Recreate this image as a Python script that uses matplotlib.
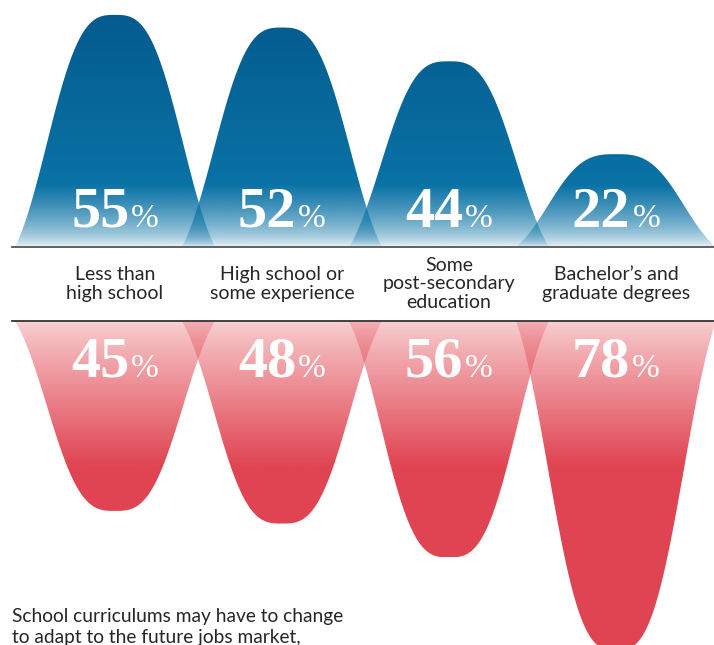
import numpy as np
import matplotlib.pyplot as plt
from matplotlib.colors import to_rgb

# survey shares by education level
categories = ["Less than\nhigh school", "High school or\nsome experience",
              "Some\npost-secondary\neducation", "Bachelor\u2019s and\ngraduate degrees"]
top_values = [55, 52, 44, 22]
bottom_values = [45, 48, 56, 78]
footnote = ["School curriculums may have to change",
            "to adapt to the future jobs market,"]

W, H, DPI = 714, 645, 100
TOP_BASE = 247      # px from top edge
BOT_BASE = 321
PX_PER_PCT = 4.22
X0, STEP = 115, 167

HALF = 100 / STEP   # half width of one hump, in category units
S = 78 / STEP
P = 3.0

BLUE_TOP = np.array(to_rgb('#045b8e'))
BLUE_MID = np.array(to_rgb('#0a72a5'))
RED_BASE = np.array(to_rgb('#e8646c'))
RED = np.array(to_rgb('#e04452'))


def bell(x, c, v):
    d = np.abs(x - c)
    g = np.exp(-(d / S) ** P)
    g0 = np.exp(-(HALF / S) ** P)
    return v * np.clip((g - g0) / (1 - g0), 0, None) * (d <= HALF)


def blue_grad(h):
    px = h * PX_PER_PCT
    t = np.clip(px / 62, 0, 1)
    u = np.clip((px - 62) / 170, 0, 1)[:, None]
    rgb = BLUE_MID * (1 - u) + BLUE_TOP * u
    a = 0.02 + 0.98 * t ** 0.6
    return np.column_stack([rgb, a])


def red_grad(h):
    px = h * PX_PER_PCT
    t = np.clip(px / 145, 0, 1)
    u = t[:, None]
    rgb = RED_BASE * (1 - u) + RED * u
    a = 0.28 + 0.72 * t ** 0.75
    return np.column_stack([rgb, a])


def draw_hump(ax, c, v, grad):
    xs = np.linspace(c - HALF, c + HALF, 500)
    ys = bell(xs, c, v)
    poly = ax.fill_between(xs, 0, ys, color='none', lw=0)
    hs = np.linspace(0, v, 400)
    img = np.repeat(grad(hs)[:, None, :], 2, axis=1)
    im = ax.imshow(img, extent=(c - HALF, c + HALF, 0, v), origin='lower',
                   aspect='auto', interpolation='bilinear', zorder=2)
    im.set_clip_path(poly.get_paths()[0], transform=ax.transData)


fig = plt.figure(figsize=(W / DPI, H / DPI), dpi=DPI)
ax_top = fig.add_axes([0, 1 - TOP_BASE / H, 1, TOP_BASE / H])
ax_bot = fig.add_axes([0, 0, 1, 1 - BOT_BASE / H])
xlim = (-X0 / STEP, (W - X0) / STEP)
for ax in (ax_top, ax_bot):
    ax.set_axis_off()

renderer = fig.canvas.get_renderer()
num_font = dict(family='Liberation Serif', weight='bold', size=42, color='white')
pct_font = dict(family='Liberation Serif', size=24, color='white')


def label_value(ax, c, v, dy):
    # big number followed by a smaller % sign, centred on the hump
    t1 = ax.text(0, 0, str(v), **num_font)
    t2 = ax.text(0, 0, '%', **pct_font)
    w1 = t1.get_window_extent(renderer).width
    w2 = t2.get_window_extent(renderer).width
    t1.remove(); t2.remove()
    gap = 2
    left = -(w1 + gap + w2) / 2
    ax.annotate(str(v), xy=(c, 0), xytext=(left, dy), textcoords='offset pixels',
                ha='left', va='baseline', zorder=5, annotation_clip=False, **num_font)
    ax.annotate('%', xy=(c, 0), xytext=(left + w1 + gap, dy), textcoords='offset pixels',
                ha='left', va='baseline', zorder=5, annotation_clip=False, **pct_font)


for i, v in enumerate(top_values):
    draw_hump(ax_top, i, v, blue_grad)
    label_value(ax_top, i, v, 20)

for i, v in enumerate(bottom_values):
    draw_hump(ax_bot, i, v, red_grad)
    label_value(ax_bot, i, v, -56)

for ax in (ax_top, ax_bot):
    ax.set_xlim(xlim)
ax_top.set_ylim(0, TOP_BASE / PX_PER_PCT)
ax_bot.set_ylim((H - BOT_BASE) / PX_PER_PCT, 0)

ax_top.axhline(0, xmin=12 / W, xmax=1, color='#555555', lw=1.3, clip_on=False, zorder=6)
ax_bot.axhline(0, xmin=12 / W, xmax=1, color='#333333', lw=1.3, clip_on=False, zorder=6)

for i, cat in enumerate(categories):
    ax_top.annotate(cat, xy=(i, 0), xytext=(0, -37), textcoords='offset pixels',
                    ha='center', va='center', multialignment='center',
                    family='Lato', fontsize=14, color='#262626', linespacing=1.08,
                    annotation_clip=False)

for k, line in enumerate(footnote):
    fig.text(12 / W, 1 - (622 + 21 * k) / H, line, ha='left', va='baseline',
             family='Lato', fontsize=13.8, color='#262626')

fig.savefig('out.png', dpi=DPI)
